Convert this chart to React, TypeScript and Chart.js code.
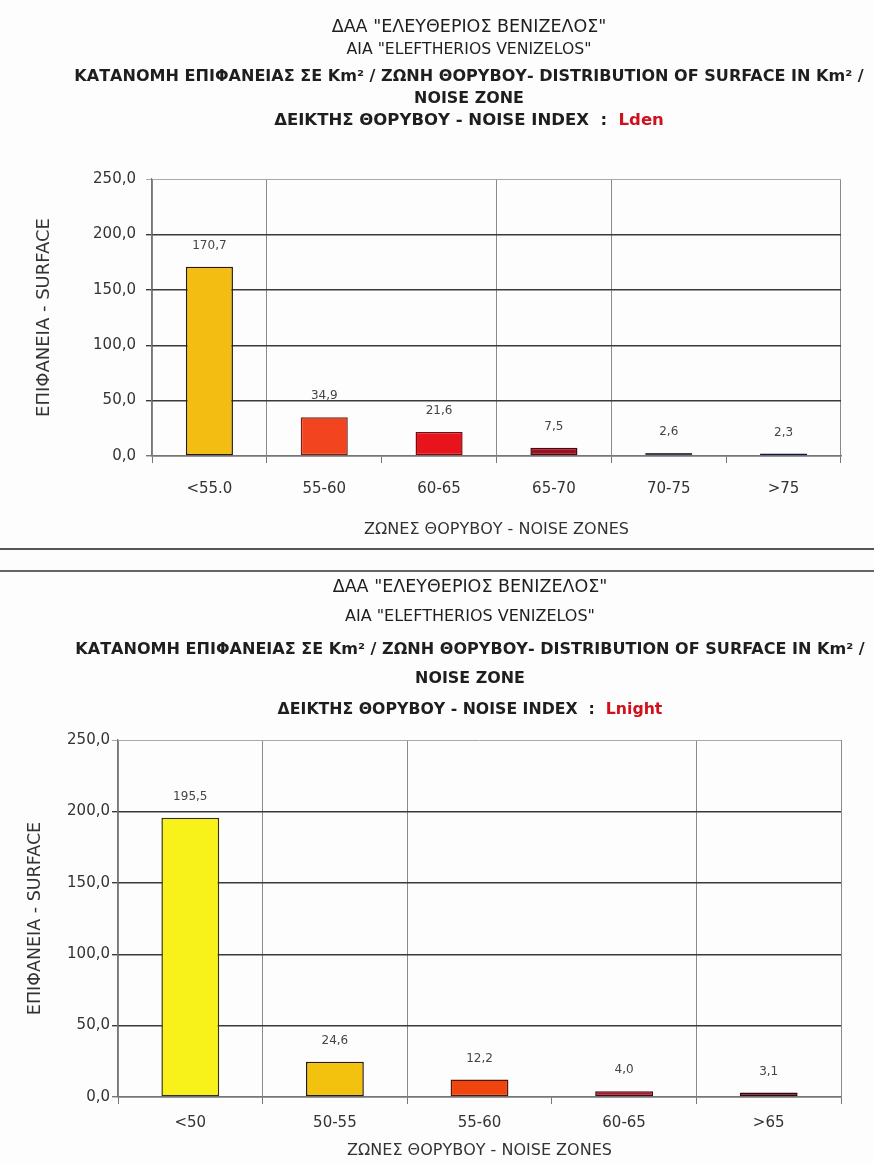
import React, { useEffect, useRef } from "react";
import { Chart, registerables } from "chart.js";

Chart.register(...registerables);

// ---- Data ----
const ldenZones = ["<55.0", "55-60", "60-65", "65-70", "70-75", ">75"];
const ldenSurface = [170.7, 34.9, 21.6, 7.5, 2.6, 2.3];
const ldenColors = ["#F3BD12", "#F2441E", "#E8141C", "#9E1020", "#C4C4D0", "#1E2A6E"];
const ldenBorders = ["#2a1a00", "#7a2010", "#7a0a10", "#4a0810", "#404050", "#101840"];

const lnightZones = ["<50", "50-55", "55-60", "60-65", ">65"];
const lnightSurface = [195.5, 24.6, 12.2, 4.0, 3.1];
const lnightColors = ["#F9F21A", "#F2C20E", "#F1450F", "#AF1A2A", "#6E1622"];
const lnightBorders = ["#3a3500", "#2a1c00", "#4a1a08", "#4a0810", "#300810"];

const yMin = 0;
const yMax = 250;
const yStep = 50;

const titleLine1 = 'ΔΑΑ "ΕΛΕΥΘΕΡΙΟΣ ΒΕΝΙΖΕΛΟΣ"';
const titleLine2 = 'AIA "ELEFTHERIOS VENIZELOS"';
const titleLine3 = "ΚΑΤΑΝΟΜΗ ΕΠΙΦΑΝΕΙΑΣ ΣΕ Km² / ΖΩΝΗ ΘΟΡΥΒΟΥ- DISTRIBUTION OF SURFACE IN Km² /";
const titleLine4 = "NOISE ZONE";
const titleLine5 = "ΔΕΙΚΤΗΣ ΘΟΡΥΒΟΥ - NOISE INDEX  :  ";
const yTitle = "ΕΠΙΦΑΝΕΙΑ - SURFACE";
const xTitle = "ΖΩΝΕΣ ΘΟΡΥΒΟΥ - NOISE ZONES";

const FONT = "'DejaVu Sans', sans-serif";
const fmt = (v: number) => v.toFixed(1).replace(".", ",");

type Seg = { text: string; color: string };
type HLine = { y: number; bold: boolean; size: number; width: number; segs: Seg[] };

const headerPlugin = {
  id: "header",
  afterDraw(chart: any, _args: any, opts: any) {
    const ctx = chart.ctx;
    const lines: HLine[] = opts.lines || [];
    const cx: number = opts.cx;
    ctx.save();
    ctx.textBaseline = "middle";
    ctx.textAlign = "left";
    for (const ln of lines) {
      const full = ln.segs.map((s) => s.text).join("");
      let size = ln.size;
      ctx.font = `${ln.bold ? "bold " : ""}${size}px ${FONT}`;
      const w0 = ctx.measureText(full).width;
      if (ln.width && w0 > 0) size = size * (ln.width / w0);
      ctx.font = `${ln.bold ? "bold " : ""}${size}px ${FONT}`;
      const total = ctx.measureText(full).width;
      let x = cx - total / 2;
      for (const s of ln.segs) {
        ctx.fillStyle = s.color;
        ctx.fillText(s.text, x, ln.y);
        x += ctx.measureText(s.text).width;
      }
    }
    ctx.restore();
  },
};

const valueLabelPlugin = {
  id: "valueLabels",
  afterDatasetsDraw(chart: any, _args: any, opts: any) {
    const ctx = chart.ctx;
    ctx.save();
    ctx.font = `${opts.size || 12}px ${FONT}`;
    ctx.fillStyle = "#444";
    ctx.textAlign = "center";
    ctx.textBaseline = "middle";
    chart.data.datasets.forEach((ds: any, di: number) => {
      const meta = chart.getDatasetMeta(di);
      meta.data.forEach((el: any, i: number) => {
        ctx.fillText(fmt(ds.data[i]), el.x, el.y - (opts.offset || 21));
      });
    });
    ctx.restore();
  },
};

type Cfg = {
  zones: string[];
  values: number[];
  colors: string[];
  borders: string[];
  height: number;
  padTop: number;
  yWidth: number;
  xHeight: number;
  yTickPad: number;
  yTitleSize: number;
  yTitlePad: number;
  xTickPad: number;
  xTitleSize: number;
  xTitlePad: number;
  barPct: number;
  gridIdx: number[];
  header: HLine[];
  cx: number;
};

function BarChart({ cfg }: { cfg: Cfg }) {
  const ref = useRef<HTMLCanvasElement | null>(null);
  useEffect(() => {
    if (!ref.current) return;
    const chart = new Chart(ref.current, {
      type: "bar",
      data: {
        labels: cfg.zones,
        datasets: [
          {
            data: cfg.values,
            backgroundColor: cfg.colors,
            borderColor: cfg.borders,
            borderWidth: 1.5,
            borderSkipped: false,
            barPercentage: cfg.barPct,
            categoryPercentage: 1,
          },
        ],
      },
      options: {
        animation: false,
        responsive: false,
        maintainAspectRatio: false,
        layout: { padding: { top: cfg.padTop, right: 33, left: 0, bottom: 0 } },
        plugins: {
          legend: { display: false },
          tooltip: { enabled: false },
          title: { display: false },
          header: { lines: cfg.header, cx: cfg.cx },
          valueLabels: { size: 12, offset: 21 },
        } as any,
        scales: {
          x: {
            type: "category",
            offset: true,
            afterFit: (s: any) => {
              s.height = cfg.xHeight;
            },
            grid: {
              display: true,
              offset: true,
              drawOnChartArea: true,
              tickLength: 7,
              tickColor: "#777",
              lineWidth: 1,
              color: (c: any) =>
                c.index === undefined || cfg.gridIdx.includes(c.index) ? "#8a8a8a" : "rgba(0,0,0,0)",
            },
            border: { display: true, color: "#777", width: 1.5 },
            ticks: {
              color: "#333",
              font: { family: FONT, size: 15 },
              padding: cfg.xTickPad,
              maxRotation: 0,
            },
            title: {
              display: true,
              text: xTitle,
              color: "#333",
              font: { family: FONT, size: cfg.xTitleSize },
              padding: { top: 0, bottom: cfg.xTitlePad },
            },
          },
          y: {
            min: yMin,
            max: yMax,
            afterFit: (s: any) => {
              s.width = cfg.yWidth;
            },
            ticks: {
              stepSize: yStep,
              color: "#333",
              font: { family: FONT, size: 15 },
              padding: cfg.yTickPad,
              callback: (v: any) => fmt(Number(v)),
            },
            grid: {
              tickLength: 6,
              lineWidth: (c: any) => (c.tick && c.tick.value === yMax ? 1 : 1.4),
              color: (c: any) =>
                c.tick && c.tick.value === yMax ? "#aaa" : c.tick && c.tick.value === 0 ? "#777" : "#3a3a3a",
              tickColor: (c: any) =>
                c.tick && c.tick.value === yMax ? "#aaa" : c.tick && c.tick.value === 0 ? "#777" : "#3a3a3a",
            },
            border: { display: true, color: "#777", width: 1.2 },
            title: {
              display: true,
              text: yTitle,
              color: "#333",
              font: { family: FONT, size: cfg.yTitleSize },
              padding: { top: cfg.yTitlePad, bottom: 0 },
            },
          },
        },
      },
      plugins: [headerPlugin, valueLabelPlugin],
    } as any);
    return () => chart.destroy();
  }, [cfg]);
  return <canvas ref={ref} width={874} height={cfg.height} style={{ display: "block", width: 874, height: cfg.height }} />;
}

const DARK = "#1e1e1e";
const RED = "#D0101C";

const topCfg: Cfg = {
  zones: ldenZones,
  values: ldenSurface,
  colors: ldenColors,
  borders: ldenBorders,
  height: 545,
  padTop: 179,
  yWidth: 152,
  xHeight: 89,
  yTickPad: 10,
  yTitleSize: 18,
  yTitlePad: 34,
  xTickPad: 17,
  xTitleSize: 16,
  xTitlePad: 6,
  barPct: 0.41,
  gridIdx: [0, 1, 3, 4],
  cx: 469,
  header: [
    { y: 27, bold: false, size: 15, width: 275, segs: [{ text: titleLine1, color: DARK }] },
    { y: 50, bold: false, size: 15, width: 245, segs: [{ text: titleLine2, color: DARK }] },
    { y: 77, bold: true, size: 15, width: 790, segs: [{ text: titleLine3, color: DARK }] },
    { y: 99, bold: true, size: 15, width: 110, segs: [{ text: titleLine4, color: DARK }] },
    {
      y: 121,
      bold: true,
      size: 15,
      width: 390,
      segs: [
        { text: titleLine5, color: DARK },
        { text: "Lden", color: RED },
      ],
    },
  ],
};

const bottomCfg: Cfg = {
  zones: lnightZones,
  values: lnightSurface,
  colors: lnightColors,
  borders: lnightBorders,
  height: 588,
  padTop: 165,
  yWidth: 118,
  xHeight: 66,
  yTickPad: 2,
  yTitleSize: 17.5,
  yTitlePad: 25,
  xTickPad: 10,
  xTitleSize: 16,
  xTitlePad: 3,
  barPct: 0.4,
  gridIdx: [0, 1, 2, 4],
  cx: 470,
  header: [
    { y: 12, bold: false, size: 15, width: 275, segs: [{ text: titleLine1, color: DARK }] },
    { y: 42, bold: false, size: 15, width: 250, segs: [{ text: titleLine2, color: DARK }] },
    { y: 75, bold: true, size: 15, width: 790, segs: [{ text: titleLine3, color: DARK }] },
    { y: 104, bold: true, size: 15, width: 110, segs: [{ text: titleLine4, color: DARK }] },
    {
      y: 135,
      bold: true,
      size: 15,
      width: 385,
      segs: [
        { text: titleLine5, color: DARK },
        { text: "Lnight", color: RED },
      ],
    },
  ],
};

export default function App() {
  return (
    <div
      style={{
        position: "absolute",
        top: 0,
        left: 0,
        width: 874,
        height: 1163,
        background: "#fdfdfd",
        overflow: "hidden",
      }}
    >
      <div style={{ position: "absolute", top: 0, left: 0 }}>
        <BarChart cfg={topCfg} />
      </div>
      <div style={{ position: "absolute", top: 548, left: 0, width: 874, height: 2, background: "#555" }} />
      <div style={{ position: "absolute", top: 570, left: 0, width: 874, height: 2, background: "#666" }} />
      <div style={{ position: "absolute", top: 575, left: 0 }}>
        <BarChart cfg={bottomCfg} />
      </div>
    </div>
  );
}
